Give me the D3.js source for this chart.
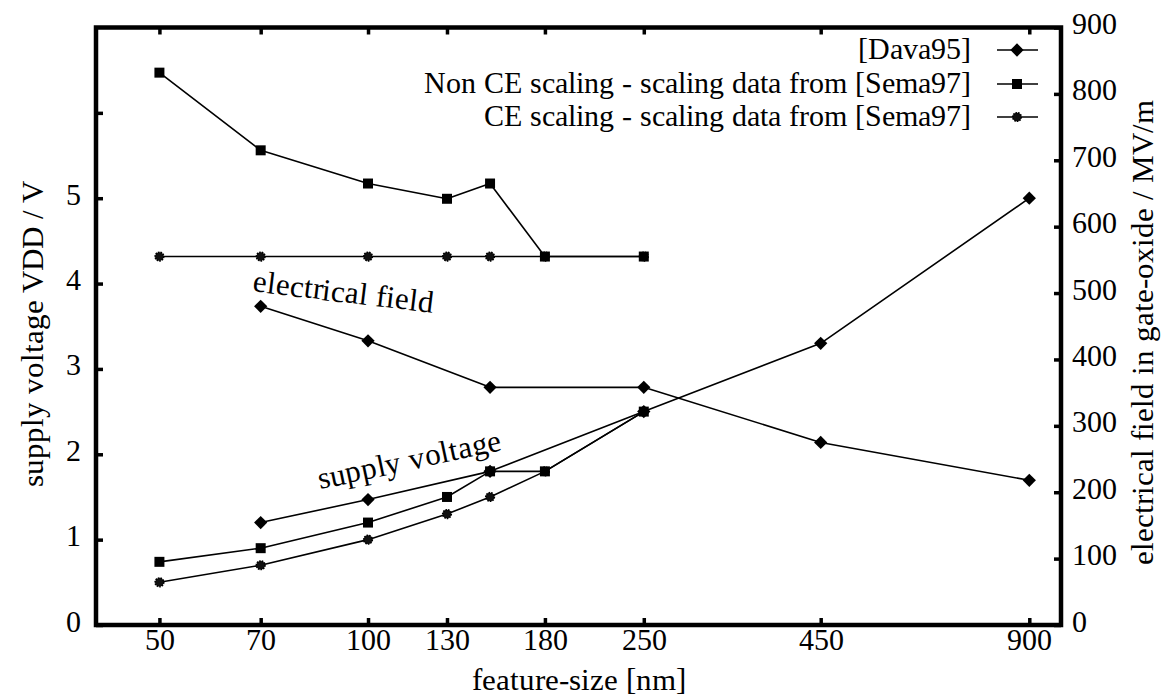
<!DOCTYPE html>
<html><head><meta charset="utf-8">
<script src="https://cdn.jsdelivr.net/npm/d3@7"></script>
<style>
@font-face { font-family: "ChartSerif"; src: local("Liberation Serif"), local("LiberationSerif"), local("LiberationSerif-Regular"), local("Tinos"), local("Times New Roman"); }
</style>
</head><body style="margin:0"><svg id="c" width="1171" height="698" style="display:block"></svg>
<script>
// ---- data ----
const xTicks = [50, 70, 100, 130, 180, 250, 450, 900];
const leftTicks = [0, 1, 2, 3, 4, 5, 6];
const leftTickLabels = ["0", "1", "2", "3", "4", "5", ""];
const rightTicks = [0, 100, 200, 300, 400, 500, 600, 700, 800, 900];

const davaSize = [70, 100, 150, 250, 450, 900];
const davaVoltage = [1.2, 1.47, 1.8, 2.5, 3.3, 5.0];
const davaField = [480, 428, 358, 358, 275, 218];

const nonCeSize = [50, 70, 100, 130, 150, 180, 250];
const nonCeVoltage = [0.74, 0.9, 1.2, 1.5, 1.8, 1.8, 2.5];
const nonCeField = [832, 715, 665, 642, 665, 555, 555];

const ceSize = [50, 70, 100, 130, 150, 180, 250];
const ceVoltage = [0.5, 0.7, 1.0, 1.3, 1.5, 1.8, 2.5];
const ceField = [555, 555, 555, 555, 555, 555, 555];

const legendLabels = ["[Dava95]", "Non CE scaling - scaling data from [Sema97]", "CE scaling - scaling data from [Sema97]"];
const markerTypes = ["diamond", "square", "circle"];

// ---- layout ----
const SERIF = '"ChartSerif", "Liberation Serif", Tinos, "Times New Roman", serif';
const L = 96, R = 1061, T = 27.5, B = 625;
const svg = d3.select("#c");
const x = d3.scaleLog().domain([40.5, 1000]).range([L, R]);
const yL = d3.scaleLinear().domain([0, 7]).range([B, T]);
const yR = d3.scaleLinear().domain([0, 900]).range([B, T]);
const FS = 30;

function marker(g, type, cx, cy) {
  if (type === "diamond") {
    g.append("path").attr("d", d3.symbol(d3.symbolSquare, 88)())
      .attr("transform", `translate(${cx},${cy}) rotate(45)`).attr("fill", "#000");
  } else if (type === "square") {
    g.append("path").attr("d", d3.symbol(d3.symbolSquare, 100)())
      .attr("transform", `translate(${cx},${cy})`).attr("fill", "#000");
  } else {
    g.append("circle").attr("cx", cx).attr("cy", cy).attr("r", 4.3)
      .attr("fill", "#111").attr("stroke", "#000").attr("stroke-width", 1.6)
      .attr("stroke-dasharray", "1.6,1");
  }
}

function series(sizes, vals, yScale, type) {
  const pts = sizes.map((s, i) => [x(s), yScale(vals[i])]);
  const g = svg.append("g");
  g.append("path").attr("d", d3.line()(pts)).attr("fill", "none")
    .attr("stroke", "#000").attr("stroke-width", 1.6).attr("stroke-linejoin", "round");
  pts.forEach(p => marker(g, type, p[0], p[1]));
}

series(ceSize, ceField, yR, "circle");
series(nonCeSize, nonCeField, yR, "square");
series(davaSize, davaField, yR, "diamond");
series(ceSize, ceVoltage, yL, "circle");
series(nonCeSize, nonCeVoltage, yL, "square");
series(davaSize, davaVoltage, yL, "diamond");

// ---- axes ----
function styleTicks(g) {
  g.attr("font-family", null).attr("font-size", null);
  g.select(".domain").remove();
  g.selectAll(".tick line").attr("stroke", "#000").attr("stroke-width", 3.5);
}
const gB = svg.append("g").attr("transform", `translate(0,${B})`)
  .call(d3.axisBottom(x).tickValues(xTicks).tickFormat(d3.format("d")).tickSize(-7).tickSizeOuter(0));
styleTicks(gB);
gB.selectAll("text").attr("y", 25).attr("dy", 0);

const gT = svg.append("g").attr("transform", `translate(0,${T})`)
  .call(d3.axisTop(x).tickValues(xTicks).tickFormat("").tickSize(-7).tickSizeOuter(0));
styleTicks(gT);

const gL = svg.append("g").attr("transform", `translate(${L},0)`)
  .call(d3.axisLeft(yL).tickValues(leftTicks).tickFormat((d, i) => leftTickLabels[i]).tickSize(-7).tickSizeOuter(0));
styleTicks(gL);
gL.selectAll("text").attr("x", -15).attr("dy", 0).attr("y", 6);

const gR = svg.append("g").attr("transform", `translate(${R},0)`)
  .call(d3.axisRight(yR).tickValues(rightTicks).tickFormat(d3.format("d")).tickSize(-7).tickSizeOuter(0));
styleTicks(gR);
gR.selectAll("text").attr("x", 11).attr("dy", 0).attr("y", 6);

svg.append("rect").attr("x", L).attr("y", T).attr("width", R - L).attr("height", B - T)
  .attr("fill", "none").attr("stroke", "#000").attr("stroke-width", 4.5);

// ---- titles ----
svg.append("text").attr("class", "big").attr("x", (L + R) / 2).attr("y", 690).attr("text-anchor", "middle")
  .text("feature-size [nm]");
svg.append("text").attr("class", "big").attr("transform", "translate(43,334) rotate(-90)").attr("text-anchor", "middle")
  .text("supply voltage VDD / V");
svg.append("text").attr("class", "big").attr("transform", "translate(1153,332) rotate(-90)").attr("text-anchor", "middle")
  .text("electrical field in gate-oxide / MV/m");
svg.append("text").attr("class", "big").attr("transform", "translate(252,291) rotate(7)").text("electrical field");
svg.append("text").attr("class", "big").attr("transform", "translate(320,489) rotate(-12)").text("supply voltage");

// ---- legend ----
const legRows = [50, 84, 117];
legendLabels.forEach((lab, i) => {
  const gy = legRows[i];
  const g = svg.append("g");
  g.append("text").attr("x", 971).attr("y", gy + 9).attr("text-anchor", "end").text(lab);
  g.append("line").attr("x1", 997).attr("x2", 1038).attr("y1", gy).attr("y2", gy)
    .attr("stroke", "#000").attr("stroke-width", 1.6);
  marker(g, markerTypes[i], 1017, gy);
});

svg.selectAll("text").each(function () {
  const el = d3.select(this);
  const size = el.classed("big") ? 31 : FS;
  el.style("font", size + "px " + SERIF).attr("fill", "#000");
});
</script>
</body></html>
